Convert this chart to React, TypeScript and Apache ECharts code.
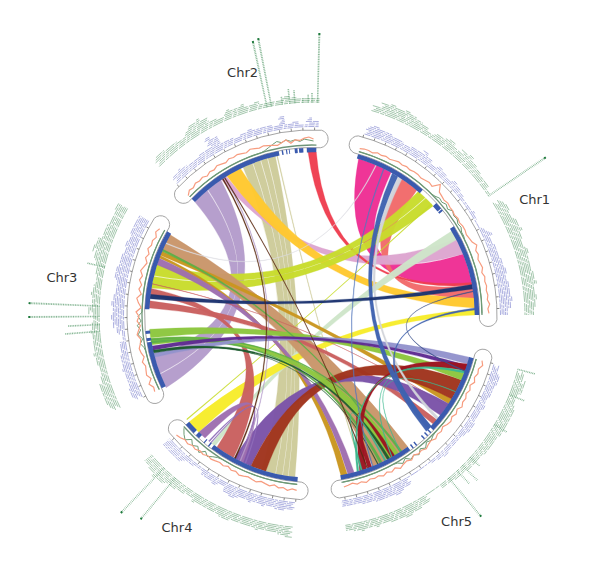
import React, { useEffect, useRef } from "react";
import * as echarts from "echarts";

// chromosome spans in degrees, clockwise from the top
const chrNames = ["Chr1", "Chr5", "Chr4", "Chr3", "Chr2"];
const chrStart = [16, 105, 185, 244, 314];
const chrEnd = [90, 170, 229, 300, 361.5];
const labelRadius = [251, 252, 252, 253, 252];
const labelAngle = [62.5, 145, 212.4, 278.6, 344];

// solid stretches of the inner band
const bandBlocks = [
  [16, 41.5], [48, 50.5], [50.8, 51.5], [58, 90],
  [105, 133.5], [134.5, 135], [136, 136.5], [137.5, 138], [141, 141.5], [142.5, 143], [144, 170],
  [185, 217], [218, 218.5], [220, 220.4], [222.5, 224], [225, 229],
  [244, 260.5], [261, 262], [263.5, 264.5], [272, 300],
  [314, 348.5], [349.5, 350], [351, 351.4], [352, 352.3], [354, 355], [355.5, 357], [358.2, 361.5],
];

// stacked tile counts per 2 degree bin
const blueChr1 = [6, 7, 6, 6, 5, 5, 4, 5, 5, 7, 5, 3, 5, 4, 3, 5, 4, 3, 2, 2, 3, 2, 1, 3, 6, 4, 5, 5, 6, 6, 7, 6, 7, 7, 8, 7, 5];
const blueChr5 = [4, 6, 6, 5, 5, 4, 5, 4, 4, 5, 5, 4, 3, 3, 3, 4, 3, 2, 1, 1, 1, 1, 5, 6, 7, 6, 6, 6, 5, 5, 4, 4, 4];
const blueChr4 = [5, 6, 6, 5, 6, 5, 6, 5, 6, 7, 6, 3, 5, 4, 4, 2, 3, 3, 6, 6, 6, 6];
const blueChr3 = [6, 6, 5, 5, 6, 5, 5, 4, 4, 2, 5, 7, 8, 7, 8, 7, 6, 6, 8, 8, 7, 7, 6, 7, 6, 7, 7, 7];
const blueChr2 = [5, 6, 5, 4, 4, 5, 5, 11, 9, 4, 4, 3, 4, 5, 4, 4, 4, 3, 8, 3, 4, 2, 6, 4];
const greenChr1 = [4, 7, 8, 7, 8, 7, 6, 5, 3, 5, 6, 7, 5, 7, 8, 6, 5, 4, 4, 2, 0, 6, 7, 6, 8, 9, 7, 6, 8, 7, 7, 8, 9, 7, 8, 7, 6];
const greenChr5 = [5, 7, 7, 5, 6, 7, 7, 7, 7, 6, 6, 6, 5, 5, 5, 4, 4, 3, 3, 1, 1, 5, 6, 6, 7, 6, 6, 5, 6, 5, 6, 5, 4];
const greenChr4 = [7, 6, 5, 5, 6, 5, 5, 5, 6, 6, 5, 5, 5, 6, 4, 5, 6, 6, 8, 9, 7, 6];
const greenChr3 = [6, 7, 7, 7, 5, 4, 5, 6, 5, 5, 6, 5, 4, 7, 5, 6, 5, 4, 5, 6, 8, 10, 9, 7, 7, 6, 6, 7];
const greenChr2 = [6, 6, 5, 5, 4, 6, 8, 9, 7, 4, 3, 6, 5, 6, 4, 5, 3, 3, 3, 5, 4, 3, 3, 3];

// tall narrow stacks: [angle, tile count]
const greenSpikes = [
  [56, 41], [104.8, 11], [112, 10], [121, 9], [132, 8], [135, 13], [137, 11], [140, 30],
  [220, 32], [224, 37],
  [265.6, 21], [267.4, 19], [269.6, 42], [272.4, 42], [283, 11],
  [347.8, 40], [349, 41], [352, 5], [354, 9], [355.4, 8], [357.5, 3], [359, 5], [360, 6], [361.5, 41],
];

// orange and green line radii, one value per 1.5 degrees
const orangeChr1 = [173, 174, 174, 173, 175, 174, 175, 174, 175, 176, 175, 176, 175, 176, 176, 175, 176, 177, 176, 183, 177, 176, 175, 176, 175, 175, 174, 175, 174, 175, 175, 174, 175, 176, 179, 176, 177, 175, 176, 177, 175, 177, 176, 177, 176, 177, 176, 178, 176, 177];
const orangeChr5 = [176, 178, 175, 176, 174, 176, 173, 175, 173, 175, 174, 176, 173, 175, 173, 175, 174, 172, 174, 173, 175, 173, 174, 176, 174, 175, 173, 176, 174, 175, 177, 174, 176, 174, 176, 174, 175, 174, 176, 174, 175, 173, 174, 175];
const orangeChr4 = [176, 175, 177, 175, 176, 174, 176, 175, 174, 176, 175, 174, 175, 176, 174, 175, 173, 175, 174, 175, 176, 175, 177, 176, 178, 177, 179, 178, 180, 181];
const orangeChr3 = [175, 174, 177, 173, 176, 175, 174, 176, 173, 175, 176, 174, 173, 176, 174, 172, 175, 173, 176, 171, 174, 176, 172, 175, 173, 176, 174, 177, 175, 173, 176, 174, 177, 175, 176, 174, 177, 175];
const orangeChr2 = [172, 175, 174, 176, 175, 176, 174, 176, 175, 177, 176, 175, 177, 176, 177, 176, 175, 177, 176, 175, 176, 175, 174, 173, 175, 177, 173, 176, 175, 177, 178, 176];
const greenLineChr1 = [170, 170, 170, 170, 170, 170, 170, 170, 170, 170, 170, 170, 170, 170, 170, 170, 170, 170, 170, 170, 171, 173, 172, 174, 172, 175, 173, 174, 172, 173, 171, 171, 170, 170, 170, 170, 170, 170, 170, 170, 170, 170, 170, 170, 170, 170, 170, 170, 170, 170];
const greenLineChr5 = [170, 170, 170, 170, 170, 170, 170, 170, 170, 170, 170, 170, 170, 170, 170, 170, 170, 170, 170, 170, 171, 173, 171, 175, 172, 176, 173, 175, 171, 174, 171, 170, 170, 170, 170, 170, 170, 170, 170, 170, 170, 170, 170, 170];
const greenLineChr4 = [170, 170, 170, 170, 170, 170, 170, 170, 170, 170, 170, 170, 170, 170, 170, 170, 170, 170, 170, 171, 173, 176, 173, 178, 174, 177, 173, 178, 175, 171];
const greenLineChr3 = [170, 170, 170, 170, 170, 170, 170, 170, 170, 170, 171, 174, 171, 175, 172, 175, 171, 174, 170, 170, 170, 170, 170, 170, 170, 170, 170, 170, 170, 170, 170, 170, 170, 170, 170, 170, 170, 170];
const greenLineChr2 = [170, 170, 170, 170, 170, 170, 170, 170, 170, 170, 170, 170, 170, 170, 170, 170, 170, 170, 170, 170, 171, 173, 175, 177, 175, 177, 175, 176, 174, 176, 175, 174];

// ribbons: [first start, first end, second start, second end] in degrees
const pinkLinks = [[16.6, 29, 68, 79]];
const khakiLinks = [[335, 338.5, 193, 198], [338.8, 341.5, 190.5, 192.8], [341.8, 344, 188.5, 190.3], [344.3, 347, 186, 188.3]];
const khakiThin = [[347.5, 347.8, 162, 162.3]];
const lilacLinks = [[314, 320, 249, 255], [320.3, 326, 243.5, 248.7]];
const salmonLinks = [[33, 40, 79.5, 84]];
const mauveLinks = [[326.2, 328.3, 62, 68]];
const goldenLinks = [[328.5, 334, 84, 87.5]];
const limeLinks = [[40.7, 44, 284, 288], [44.3, 48, 279.5, 283.7]];
const limeThin = [[47, 47.3, 230, 230.3]];
const paleLinks = [[59, 62.5, 216.5, 218]];
const yellowLinks = [[88, 90, 224, 229]];
const tanLinks = [[144, 158, 293.5, 299.5]];
const goldLinks = [[121, 123, 291.5, 293], [167.5, 169.8, 290.5, 291.4]];
const purpleLinks = [[165, 167.3, 288, 290.4]];
const roseLinks = [[124, 124.1, 281, 281.1], [130, 132, 272.5, 275], [208.8, 215.7, 277, 279.4]];
const rustLinks = [[113.5, 121, 196.5, 202]];
const violetBand = [[123, 128, 202, 208.5]];
const violetSelf = [[205, 206.5, 221, 224]];
const violetThin = [[204, 204.4, 219, 219.4], [206.8, 207.1, 218.2, 218.5]];
const greenLinks = [[111, 113.5, 262, 265], [148, 152, 259.5, 261.8]];
const greenThin = [[150, 150.5, 293, 293.8], [154.5, 155.5, 260, 260.8], [146.5, 147.3, 261, 261.6]];
const darkPurpleLinks = [[108, 109.5, 257.5, 259]];
const darkGreenLinks = [[151.5, 152.5, 256.5, 257.5], [156, 156.3, 257, 257.3]];
const periwinkleLinks = [[105, 107.5, 255, 256.5]];
const darkRedLinks = [[107.5, 110, 160.5, 163]];
const darkRedSelf = [[149.5, 151, 158.5, 160]];
const tealLinks = [[110, 110.8, 163.3, 164], [153, 153.6, 162, 162.6]];
const tealThin = [[110.5, 110.8, 150.5, 150.8], [118, 118.2, 147, 147.2]];
const grayLinks = [[32, 33.5, 129, 130]];
const grayThin = [[23, 23.3, 296, 296.3]];
const blueLinks = [[29.5, 31.8, 133, 135.5], [87.5, 88.2, 133, 134.5]];
const blueThin = [[26, 26.3, 158, 158.3]];
const navyLinks = [[79.2, 80.8, 275.7, 277.3]];
const navyThin = [[81.5, 81.8, 110, 110.3]];
const redLinks = [[358.6, 361.5, 78.5, 79.5]];
const brownLinks = [[326.6, 327, 208, 208.5], [327.4, 327.7, 160, 160.3]];
const lilacThin = [[327.5, 327.8, 206, 206.3]];

// drawing order, back to front, with colour and curve pull towards the chord
const ribbonLayers: any[] = [
  [pinkLinks, "#EE2E94", 0.2],
  [khakiLinks, "#CDCB9A", 0.1],
  [khakiThin, "#CDCB9A", 0.1],
  [lilacLinks, "#B49CCB", 0.2],
  [salmonLinks, "#F26A6A", 0.2],
  [mauveLinks, "#DDA5CF", 0.2],
  [goldenLinks, "#FFC82E", 0.2],
  [redLinks, "#EE3E50", 0.2],
  [limeLinks, "#C8DC2C", 0.15],
  [limeThin, "#C8DC2C", 0.1],
  [paleLinks, "#CEE5C9", 0.1],
  [yellowLinks, "#F7EC2B", 0.1],
  [tanLinks, "#C9966A", 0.15],
  [goldLinks, "#C9961F", 0.15],
  [purpleLinks, "#9E6EB0", 0.15],
  [roseLinks, "#C9605F", 0.1],
  [grayThin, "#DDDDE2", 0.1],
  [violetBand, "#7B53A8", 0.1],
  [violetSelf, "#9E6EB0", 0.34],
  [violetThin, "#8F6DBA", 0.34],
  [lilacThin, "#B49CCB", 0.1],
  [rustLinks, "#A0341D", 0.1],
  [greenLinks, "#8CC63E", 0.1],
  [greenThin, "#5DB048", 0.1],
  [periwinkleLinks, "#9393CC", 0.1],
  [darkPurpleLinks, "#5E2A91", 0.1],
  [darkGreenLinks, "#1E5C30", 0.1],
  [darkRedLinks, "#9C1420", 0.3],
  [darkRedSelf, "#9C1420", 0.34],
  [tealLinks, "#3DB88E", 0.3],
  [tealThin, "#3DB88E", 0.3],
  [grayLinks, "#D2D4DA", 0.2],
  [blueLinks, "#3F62B0", 0.2],
  [blueThin, "#5578BC", 0.2],
  [navyLinks, "#1C3370", 0.1],
  [navyThin, "#3A4F8A", 0.2],
  [brownLinks, "#5A2A12", 0.1],
];

const blueBars = [blueChr1, blueChr5, blueChr4, blueChr3, blueChr2];
const greenBars = [greenChr1, greenChr5, greenChr4, greenChr3, greenChr2];
const orangeLines = [orangeChr1, orangeChr5, orangeChr4, orangeChr3, orangeChr2];
const greenLines = [greenLineChr1, greenLineChr5, greenLineChr4, greenLineChr3, greenLineChr2];

const R = 163;
const one = (renderItem: any) => ({
  type: "custom",
  coordinateSystem: "polar",
  clip: false,
  silent: true,
  data: [[0, 0]],
  renderItem,
});
const pt = (api: any, r: number, a: number) => api.coord([r, ((a % 360) + 360) % 360]);
const fx = (n: number) => n.toFixed(2);
const strokePath = (d: string, stroke: string, lineWidth: number, lineDash?: number[]) => ({
  type: "path",
  shape: { pathData: d },
  style: { fill: "none", stroke, lineWidth, lineDash },
});
const arc = (api: any, r: number, a: number, b: number, move = true) => {
  const p = pt(api, r, a);
  const q = pt(api, r, b);
  return `${move ? `M${fx(p[0])} ${fx(p[1])}` : ""}A${r} ${r} 0 ${b - a > 180 ? 1 : 0} 1 ${fx(q[0])} ${fx(q[1])}`;
};

const ribbonPath = (api: any, l: number[], k: number) => {
  const c = pt(api, 0, 0);
  const [a1, a2, b1, b2] = l;
  const edge = (s: number, e: number) => {
    const p = pt(api, R, s);
    const q = pt(api, R, e);
    const cx = c[0] + k * ((p[0] + q[0]) / 2 - c[0]);
    const cy = c[1] + k * ((p[1] + q[1]) / 2 - c[1]);
    return `Q${fx(cx)} ${fx(cy)} ${fx(q[0])} ${fx(q[1])}`;
  };
  return arc(api, R, a1, a2) + edge(a2, b1) + arc(api, R, b1, b2, false) + edge(b2, a1) + "Z";
};

// every layer is one run of tangential lines, so stacks read as long stripes
const tilePath = (api: any, start: number, bins: number[], base: number) => {
  let d = "";
  const top = Math.max(...bins);
  for (let j = 0; j < top; j++) {
    const r = base + j * 1.7;
    let open = false;
    bins.forEach((h, i) => {
      const a = start + i * 2;
      if (h > j) {
        const q = pt(api, r, a + 2);
        if (!open) {
          const p = pt(api, r, a + 0.2 + (j % 3) * 0.5);
          d += `M${fx(p[0])} ${fx(p[1])}`;
          open = true;
        }
        d += `L${fx(q[0])} ${fx(q[1])}`;
      } else {
        open = false;
      }
    });
  }
  return d;
};

const linePath = (api: any, start: number, step: number, vals: number[]) =>
  vals
    .map((r, i) => {
      const p = pt(api, r, start + i * step);
      return `${i ? "L" : "M"}${fx(p[0])} ${fx(p[1])}`;
    })
    .join("");

const buildOption = () => {
  const series: any[] = [];
  ribbonLayers.forEach(([links, color, k]) => {
    series.push(
      one((_: any, api: any) => ({
        type: "group",
        children: links.map((l: number[]) => ({
          type: "path",
          shape: { pathData: ribbonPath(api, l, k) },
          style: { fill: color, stroke: color, lineWidth: 0.3, opacity: 0.97 },
        })),
      }))
    );
  });
  series.push(
    one((_: any, api: any) => {
      const kids: any[] = [];
      chrNames.forEach((_n, c) => {
        const s = chrStart[c];
        const e = chrEnd[c];
        const over = 1.5;
        // tile tracks
        kids.push(strokePath(tilePath(api, s, blueBars[c], 188.5), "#8A8ED2", 0.7, [6, 1, 9, 1.2, 3, 0.8]));
        kids.push(strokePath(tilePath(api, s, greenBars[c], 213), "#7BAE88", 0.7, [8, 1.2, 4, 1, 11, 1.4]));
        // lines
        kids.push(strokePath(arc(api, 170, s, e), "#6E9478", 1.3));
        kids.push(strokePath(linePath(api, s, 1.5, greenLines[c]), "#6E9C74", 1));
        kids.push(strokePath(linePath(api, s, 1.5, orangeLines[c]), "#F79C7F", 1.2));
        // outline with rounded ends
        const a = pt(api, 185, s - over);
        const b = pt(api, 167.5, s - over);
        const f = pt(api, 185, e + over);
        const g = pt(api, 167.5, e + over);
        kids.push(
          strokePath(
            `M${fx(b[0])} ${fx(b[1])}A9 9 0 0 1 ${fx(a[0])} ${fx(a[1])}` +
              arc(api, 185, s - over, e + over, false) +
              `A9 9 0 0 1 ${fx(g[0])} ${fx(g[1])}` +
              `A167.5 167.5 0 0 0 ${fx(b[0])} ${fx(b[1])}`,
            "#9A9A9A",
            0.9
          )
        );
        // ticks
        let d = "";
        for (let t = s; t <= e; t += 3.6) {
          const p = pt(api, 185, t);
          const q = pt(api, 187.5, t);
          d += `M${fx(p[0])} ${fx(p[1])}L${fx(q[0])} ${fx(q[1])}`;
        }
        kids.push(strokePath(d, "#555", 0.7));
      });
      // inner blue band
      let band = "";
      bandBlocks.forEach(([x, y]) => {
        band += arc(api, 165, x, y);
      });
      kids.push(strokePath(band, "#3A5AAE", 4.6));
      // spikes
      let spike = "";
      let tops = "";
      greenSpikes.forEach(([a, n]) => {
        for (let j = 0; j < n; j++) {
          const r = 213 + j * 1.7;
          const p = pt(api, r, a - 0.2);
          const q = pt(api, r, a + 0.2);
          const seg = `M${fx(p[0])} ${fx(p[1])}L${fx(q[0])} ${fx(q[1])}`;
          spike += seg;
          if (j === n - 1 && n > 25) tops += seg;
        }
      });
      kids.push(strokePath(spike, "#6BA67C", 0.8));
      kids.push(strokePath(tops, "#1E7A3C", 2));
      return { type: "group", children: kids };
    })
  );
  series.push(
    one((_: any, api: any) => ({
      type: "group",
      children: chrNames.map((name, i) => {
        const p = pt(api, labelRadius[i], labelAngle[i]);
        return {
          type: "text",
          x: p[0],
          y: p[1],
          style: {
            text: name,
            fill: "#333",
            font: "13px 'DejaVu Sans'",
            align: "center",
            verticalAlign: "middle",
          },
        };
      }),
    }))
  );
  return {
    animation: false,
    backgroundColor: "#fff",
    polar: { center: [312, 315], radius: 300 },
    angleAxis: { show: false, min: 0, max: 360, startAngle: 90, clockwise: true },
    radiusAxis: { show: false, min: 0, max: 300 },
    series,
  };
};

export default function App() {
  const ref = useRef<HTMLDivElement>(null);
  useEffect(() => {
    document.body.style.margin = "0";
    const chart = echarts.init(ref.current!, undefined, { renderer: "svg" });
    chart.setOption(buildOption() as any);
    return () => chart.dispose();
  }, []);
  return <div ref={ref} style={{ width: 600, height: 578 }} />;
}
